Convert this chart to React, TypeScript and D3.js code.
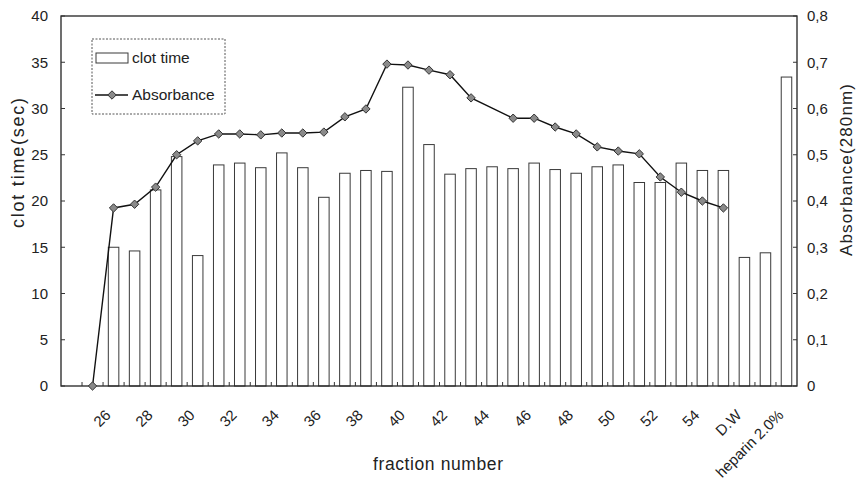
import React from "react";
import * as d3 from "d3";

// ---- data ----
const categories: string[] = [
  "25", "26", "27", "28", "29", "30", "31", "32", "33", "34",
  "35", "36", "37", "38", "39", "40", "41", "42", "43", "44",
  "45", "46", "47", "48", "49", "50", "51", "52", "53", "54",
  "55", "D.W", "", "heparin 2.0%",
];
// clot time (sec), null = no bar
const clotTime: (number | null)[] = [
  null, 15.0, 14.6, 21.2, 24.8, 14.1, 23.9, 24.1, 23.6, 25.2,
  23.6, 20.4, 23.0, 23.3, 23.2, 32.3, 26.1, 22.9, 23.5, 23.7,
  23.5, 24.1, 23.4, 23.0, 23.7, 23.9, 22.0, 22.0, 24.1, 23.3,
  23.3, 13.9, 14.4, 33.4,
];
// absorbance (280nm), null = no point
const absorbance: (number | null)[] = [
  0, 0.385, 0.393, 0.43, 0.5, 0.53, 0.545, 0.545, 0.543, 0.547,
  0.547, 0.549, 0.582, 0.599, 0.696, 0.694, 0.683, 0.673, 0.623, null,
  0.579, 0.579, 0.56, 0.545, 0.517, 0.508, 0.502, 0.452, 0.419, 0.4,
  0.385, null, null, null,
];
const leftTicks = [0, 5, 10, 15, 20, 25, 30, 35, 40];
const rightTicks = [0, 0.1, 0.2, 0.3, 0.4, 0.5, 0.6, 0.7, 0.8];
const seriesNames = ["clot time", "Absorbance"];

const W = 856;
const H = 499;
const M = { left: 61, right: 797, top: 16, bottom: 386 };
const FONT = "'Liberation Sans', Arial, sans-serif";

export default function App() {
  const n = categories.length;
  const step = (M.right - M.left) / (n + 1);
  const x = d3
    .scaleBand<number>()
    .domain(d3.range(n))
    .range([M.left + step, M.right])
    .paddingInner(0.5)
    .paddingOuter(0.25);
  const yL = d3.scaleLinear().domain([0, 40]).range([M.bottom, M.top]);
  const yR = d3.scaleLinear().domain([0, 0.8]).range([M.bottom, M.top]);
  const cx = (i: number) => (x(i) as number) + x.bandwidth() / 2;

  const pts = absorbance
    .map((v, i) => (v === null ? null : ([cx(i), yR(v)] as [number, number])))
    .filter((p): p is [number, number] => p !== null);
  const line = d3.line<[number, number]>()(pts) || "";

  const diamond = (px: number, py: number, r = 4.2) =>
    `M${px},${py - r}L${px + r},${py}L${px},${py + r}L${px - r},${py}Z`;

  const boundaries = d3.range(1, n + 1).map((k) => M.left + step * k);
  const fmtR = (v: number) => (v === 0 ? "0" : d3.format(".1f")(v).replace(".", ","));

  return (
    <svg width={W} height={H} style={{ display: "block", position: "absolute", left: 0, top: 0 }} fontFamily={FONT}>
      <rect x={0} y={0} width={W} height={H} fill="#fff" />
      {/* bars */}
      {clotTime.map((v, i) =>
        v === null ? null : (
          <rect
            key={"b" + i}
            x={x(i)}
            y={yL(v)}
            width={x.bandwidth()}
            height={yL(0) - yL(v)}
            fill="#fff"
            stroke="#3a3a3a"
            strokeWidth={1}
          />
        )
      )}
      {/* frame */}
      <rect x={M.left} y={M.top} width={M.right - M.left} height={M.bottom - M.top} fill="none" stroke="#222" strokeWidth={1.3} />
      {/* x ticks */}
      {boundaries.map((bx, k) => (
        <line key={"xt" + k} x1={bx} x2={bx} y1={M.bottom} y2={M.bottom - 4} stroke="#333" strokeWidth={1} />
      ))}
      {/* left ticks */}
      {leftTicks.map((t) => (
        <g key={"l" + t}>
          <line x1={M.left} x2={M.left + 4} y1={yL(t)} y2={yL(t)} stroke="#333" />
          <text x={48} y={yL(t)} dy="0.35em" textAnchor="end" fontSize={15} fill="#222">
            {t}
          </text>
        </g>
      ))}
      {/* right ticks */}
      {rightTicks.map((t) => (
        <g key={"r" + t}>
          <line x1={M.right - 4} x2={M.right} y1={yR(t)} y2={yR(t)} stroke="#333" />
          <text x={807} y={yR(t)} dy="0.35em" textAnchor="start" fontSize={15} fill="#222">
            {fmtR(t)}
          </text>
        </g>
      ))}
      {/* absorbance line */}
      <path d={line} fill="none" stroke="#111" strokeWidth={1.4} />
      {pts.map(([px, py], i) => (
        <path key={"d" + i} d={diamond(px, py)} fill="#8a8a8a" stroke="#333" strokeWidth={1} />
      ))}
      {/* x labels */}
      {categories.map((c, i) =>
        i % 2 === 1 && c !== "" ? (
          <text
            key={"xl" + i}
            transform={`translate(${cx(i) - 2},${416}) rotate(-45)`}
            textAnchor="end"
            fontSize={15}
            fill="#222"
          >
            {c}
          </text>
        ) : null
      )}
      {/* axis titles */}
      <text transform="translate(24,163) rotate(-90)" textAnchor="middle" fontSize={18} fill="#222" textLength={130} lengthAdjust="spacing">
        clot time(sec)
      </text>
      <text transform="translate(852,170) rotate(-90)" textAnchor="middle" fontSize={17} fill="#222" textLength={172} lengthAdjust="spacing">
        Absorbance(280nm)
      </text>
      <text x={438} y={470} textAnchor="middle" fontSize={17.5} fill="#222" textLength={130} lengthAdjust="spacing">
        fraction number
      </text>
      {/* legend */}
      <rect x={92} y={39} width={133} height={75} fill="#fff" stroke="#555" strokeWidth={1} strokeDasharray="2,1.5" />
      <rect x={96} y={53} width={32} height={10} fill="#fff" stroke="#3a3a3a" />
      <text x={132} y={63} fontSize={15.5} fill="#222">
        {seriesNames[0]}
      </text>
      <line x1={95} x2={128} y1={95} y2={95} stroke="#111" strokeWidth={1.4} />
      <path d={diamond(112, 95)} fill="#8a8a8a" stroke="#333" />
      <text x={132} y={100} fontSize={15.5} fill="#222">
        {seriesNames[1]}
      </text>
    </svg>
  );
}
